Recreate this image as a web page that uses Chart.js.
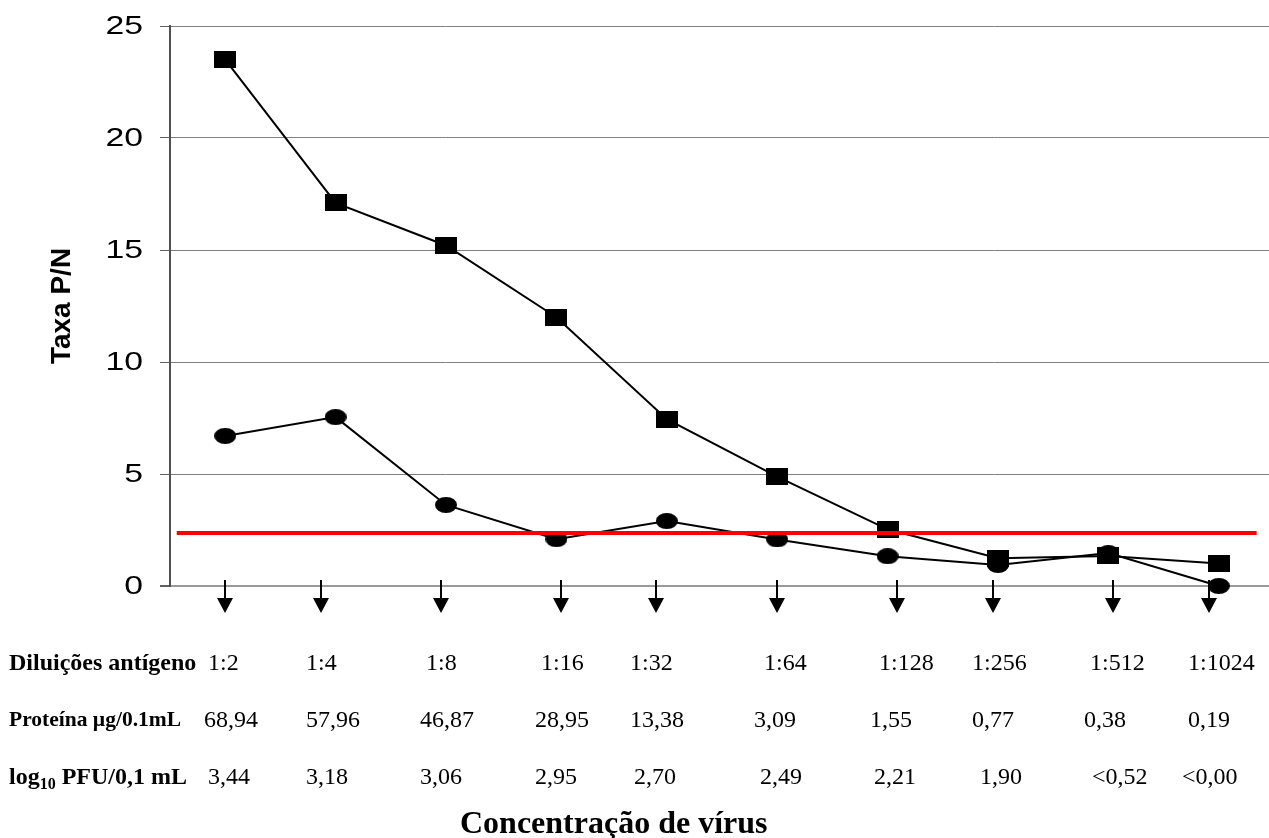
<!DOCTYPE html>
<html>
<head>
<meta charset="utf-8">
<script src="https://cdn.jsdelivr.net/npm/chart.js@4.4.0/dist/chart.umd.min.js"></script>
<style>
  html, body { margin: 0; padding: 0; background: #fff; }
  #wrap { position: relative; width: 1269px; height: 838px; overflow: hidden; background: #fff; }
  #chartBox { position: absolute; left: 0; top: 0; width: 1269px; height: 838px; }
  .t { position: absolute; white-space: nowrap; font-family: "Liberation Serif", "Times New Roman", serif;
       color: #000; font-size: 24px; line-height: 24px; }
  .lab { font-weight: bold; }
  .sub { font-size: 16px; position: relative; top: 5px; }
  .shaft { position: absolute; width: 2px; background: #000; }
  .head { position: absolute; width: 0; height: 0; border-left: 8px solid transparent;
          border-right: 8px solid transparent; border-top: 15px solid #000; }
  #xtitle { position: absolute; white-space: nowrap; font-family: "Liberation Serif", "Times New Roman", serif;
            font-weight: bold; font-size: 32px; line-height: 32px; color: #000; }
</style>
</head>
<body>
<div id="wrap">
  <div id="chartBox"><canvas id="c"></canvas></div>
</div>
<script>
// ---------------- data ----------------
const dilutions = ['1:2', '1:4', '1:8', '1:16', '1:32', '1:64', '1:128', '1:256', '1:512', '1:1024'];
const protein   = ['68,94', '57,96', '46,87', '28,95', '13,38', '3,09', '1,55', '0,77', '0,38', '0,19'];
const logPFU    = ['3,44', '3,18', '3,06', '2,95', '2,70', '2,49', '2,21', '1,90', '<0,52', '<0,00'];
const squareValues = [23.5, 17.1, 15.2, 12.0, 7.45, 4.88, 2.53, 1.24, 1.34, 1.0];
const circleValues = [6.7, 7.54, 3.62, 2.09, 2.9, 2.08, 1.33, 0.94, 1.47, 0.0];
const cutoffValue = 2.37;
const cutoffRange = [0.561, 10.343];
const yTickValues = [0, 5, 10, 15, 20, 25];
const yTickLabels = ['0', '5', '10', '15', '20', '25'];
const rowLabels = ['Diluições antígeno', 'Proteína µg/0.1mL', 'log|10| PFU/0,1 mL'];
const yTitle = 'Taxa P/N';
const xTitle = 'Concentração de vírus';

// ---------------- layout (positions only) ----------------
const colLeft = [
  [208, 306, 426, 541, 630, 764, 879, 972, 1090, 1188],
  [204, 306, 420, 535, 630, 754, 870, 972, 1084, 1188],
  [208, 306, 420, 535, 634, 760, 874, 980, 1092, 1182]
];
const rowCenterY = [662, 719, 776];
const rowLabelSize = [24, 21.5, 24];
const arrowX = [225, 321, 441, 561, 656, 777, 897, 993, 1113, 1209];

// ---------------- HTML table below the plot ----------------
const wrap = document.getElementById('wrap');
const rows = [dilutions, protein, logPFU];
rows.forEach((vals, r) => {
  const lab = document.createElement('div');
  lab.className = 't lab';
  lab.style.left = '9px';
  lab.style.top = (rowCenterY[r] - 12) + 'px';
  lab.style.fontSize = rowLabelSize[r] + 'px';
  const parts = rowLabels[r].split('|');
  if (parts.length === 3) {
    lab.appendChild(document.createTextNode(parts[0]));
    const s = document.createElement('span');
    s.className = 'sub';
    s.textContent = parts[1];
    lab.appendChild(s);
    lab.appendChild(document.createTextNode(parts[2]));
  } else {
    lab.textContent = rowLabels[r];
  }
  wrap.appendChild(lab);
  vals.forEach((v, i) => {
    const d = document.createElement('div');
    d.className = 't';
    d.style.left = colLeft[r][i] + 'px';
    d.style.top = (rowCenterY[r] - 12) + 'px';
    d.textContent = v;
    wrap.appendChild(d);
  });
});
arrowX.forEach(x => {
  const sh = document.createElement('div');
  sh.className = 'shaft';
  sh.style.left = (x - 1) + 'px';
  sh.style.top = '580px';
  sh.style.height = '20px';
  wrap.appendChild(sh);
  const hd = document.createElement('div');
  hd.className = 'head';
  hd.style.left = (x - 8) + 'px';
  hd.style.top = '598px';
  wrap.appendChild(hd);
});
const xt = document.createElement('div');
xt.id = 'xtitle';
xt.style.left = '460px';
xt.style.top = '806px';
xt.textContent = xTitle;
wrap.appendChild(xt);

// ---------------- point images (stretched marks) ----------------
function makeRect(w, h) {
  const c = document.createElement('canvas');
  c.width = w; c.height = h;
  const g = c.getContext('2d');
  g.fillStyle = '#000';
  g.fillRect(0, 0, w, h);
  return c;
}
function makeEllipse(w, h) {
  const c = document.createElement('canvas');
  c.width = w; c.height = h;
  const g = c.getContext('2d');
  g.fillStyle = '#000';
  g.beginPath();
  g.ellipse(w / 2, h / 2, w / 2, h / 2, 0, 0, Math.PI * 2);
  g.fill();
  return c;
}
const squareImg = makeRect(22, 17);
const ellipseImg = makeEllipse(22, 16);

// ---------------- stretched y tick labels ----------------
const stretchTicks = {
  id: 'stretchTicks',
  afterDraw(chart) {
    const s = chart.scales.y;
    const ctx = chart.ctx;
    ctx.save();
    ctx.font = '25px "Liberation Sans", Arial, sans-serif';
    ctx.fillStyle = '#000';
    ctx.textAlign = 'right';
    ctx.textBaseline = 'middle';
    s.ticks.forEach((t, i) => {
      const y = s.getPixelForValue(t.value);
      ctx.save();
      ctx.translate(s.right - 27, y + 1);
      ctx.scale(1.35, 1);
      ctx.fillText(yTickLabels[i], 0, 0);
      ctx.restore();
    });
    ctx.restore();
  }
};

const xIndex = dilutions.map((_, i) => i + 1);

new Chart(document.getElementById('c'), {
  type: 'line',
  data: {
    datasets: [
      {
        label: 'cut-off',
        data: cutoffRange.map(x => ({ x: x, y: cutoffValue })),
        borderColor: '#ff0000',
        borderWidth: 4,
        pointRadius: 0,
        clip: false
      },
      {
        label: 'quadrados',
        data: xIndex.map((x, i) => ({ x: x, y: squareValues[i] })),
        borderColor: '#000',
        borderWidth: 2,
        pointStyle: squareImg,
        pointRadius: 8,
        clip: false
      },
      {
        label: 'círculos',
        data: xIndex.map((x, i) => ({ x: x, y: circleValues[i] })),
        borderColor: '#000',
        borderWidth: 2,
        pointStyle: ellipseImg,
        pointRadius: 8,
        clip: false
      }
    ]
  },
  options: {
    responsive: true,
    maintainAspectRatio: false,
    animation: false,
    events: [],
    layout: { autoPadding: false, padding: { top: 26, bottom: 252, left: 0, right: 0 } },
    plugins: { legend: { display: false }, tooltip: { enabled: false } },
    scales: {
      x: { type: 'linear', display: false, min: 0.5, max: 10.455 },
      y: {
        min: 0,
        max: 25,
        afterFit: s => { s.width = 170; },
        afterBuildTicks: s => { s.ticks = yTickValues.map(v => ({ value: v })); },
        ticks: { display: false },
        grid: {
          color: c => (c.tick && c.tick.value === 0) ? '#9a9a9a' : '#808080',
          lineWidth: c => (c.tick && c.tick.value === 0) ? 2 : 1,
          tickLength: 10,
          tickColor: '#606060',
          drawTicks: true
        },
        border: { display: true, color: '#505050', width: 2 },
        title: {
          display: true,
          text: yTitle,
          color: '#000',
          font: { family: '"Liberation Sans", Arial, sans-serif', size: 28, weight: 'bold' },
          padding: { top: 45, bottom: 0 }
        }
      }
    }
  },
  plugins: [stretchTicks]
});
</script>
</body>
</html>
